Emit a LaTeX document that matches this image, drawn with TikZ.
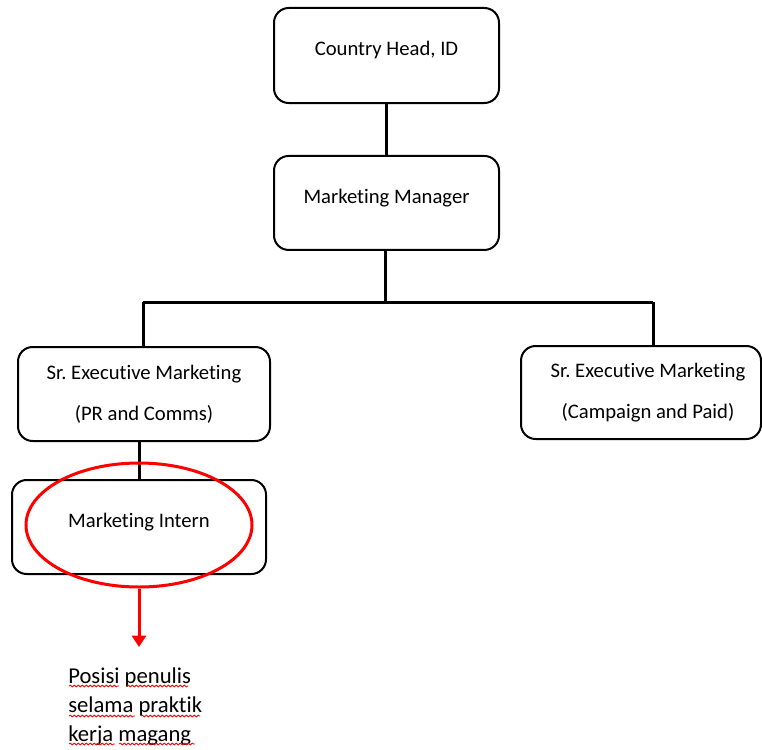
\documentclass[tikz,border=0pt]{standalone}
\usepackage{fontspec}
\setmainfont{Carlito}[Ligatures={NoCommon,NoRare,NoContextual}]
\usepackage{tikz}
\usetikzlibrary{calc}
\usetikzlibrary{arrows.meta,shapes.geometric,decorations.pathmorphing}
\newcommand{\lift}[1]{\raisebox{4pt}[\height][\depth]{#1}}
\newcommand{\Mkt}{Market{}ing}
\newcommand{\SrExec}{Sr.\ Execut{}ive \Mkt}
\newcommand{\nudge}{\hspace*{10.5pt}}

\begin{document}
\begin{tikzpicture}[x=0.75pt,y=-0.75pt
        ,orgbox/.style = {draw=black,line width=1.5pt,rectangle,rounded corners=11pt,inner sep=0pt,align=center,font=\fontsize{15.5}{30.75}\selectfont}
        ,link/.style = {draw=black,line width=2.25pt}
        ,ring/.style = {draw=red,ellipse,line width=2.25pt,minimum width=169.5pt,minimum height=93pt,inner sep=0pt}
        ,pointer/.style = {draw=red,line width=2.25pt,-{Triangle[width=10.5pt,length=8.5pt]}}
        ,note/.style = {font=\fontsize{17}{22.1}\selectfont,align=left,inner sep=0pt}
        ,wave/.style = {draw=red,line width=0.6pt,decorate,decoration={snake,segment length=3pt,amplitude=0.7pt}}
      ]
      \useasboundingbox (0,0) rectangle (762,749);

      \node[orgbox,minimum width=168.75pt,minimum height=71.25pt](head) at (386.5,55.5) {\lift{Country Head, ID}};
      \node[orgbox,minimum width=168.75pt,minimum height=70.5pt,node distance=110.6pt](mgr) [below of=head] {\lift{\Mkt\ Manager}};
      \node[orgbox,minimum width=189pt,minimum height=70.5pt](pr) at (144,394) {\SrExec\\(PR and Comms)};
      \node[orgbox,minimum width=180pt,minimum height=69.75pt](paid) at (641,392.5) {\nudge\SrExec\\\nudge(Campaign and Paid)};
      \node[orgbox,minimum width=190.5pt,minimum height=70.5pt,node distance=99.75pt,xshift=-3.75pt](intern) [below of=pr] {\lift{\Mkt\ Intern}};

      \coordinate (split) at (385,302);
      \coordinate (lbend) at (143,302);
      \coordinate (rbend) at (653,302);
      \draw[link] (head.south) -- (mgr.north);
      \draw[link] (mgr.south -| split) -- (split);
      \draw[link] (lbend) -- (rbend);
      \draw[link] (lbend) -- (lbend |- pr.north);
      \draw[link] (rbend) -- (rbend |- paid.north);
      \draw[link] (intern.north) -- (intern.north |- pr.south);

      % penanda posisi
      \node[ring](mark) at (139,525) {};
      \coordinate (tip) at (139,647);
      \draw[pointer] (mark.south) -- (tip);
      \node[note,anchor=north west](pos) at (68,667) {Posisi penulis\\selama prakt{}ik\\kerja magang};

      % garis ejaan
      \foreach \ya/\xa/\xb in {686/69/119,686/127/188,716/69/135,716/141/200,744/69/115,744/119/195}
        \draw[wave] (\xa,\ya) -- (\xb,\ya);
    \end{tikzpicture}
\end{document}
